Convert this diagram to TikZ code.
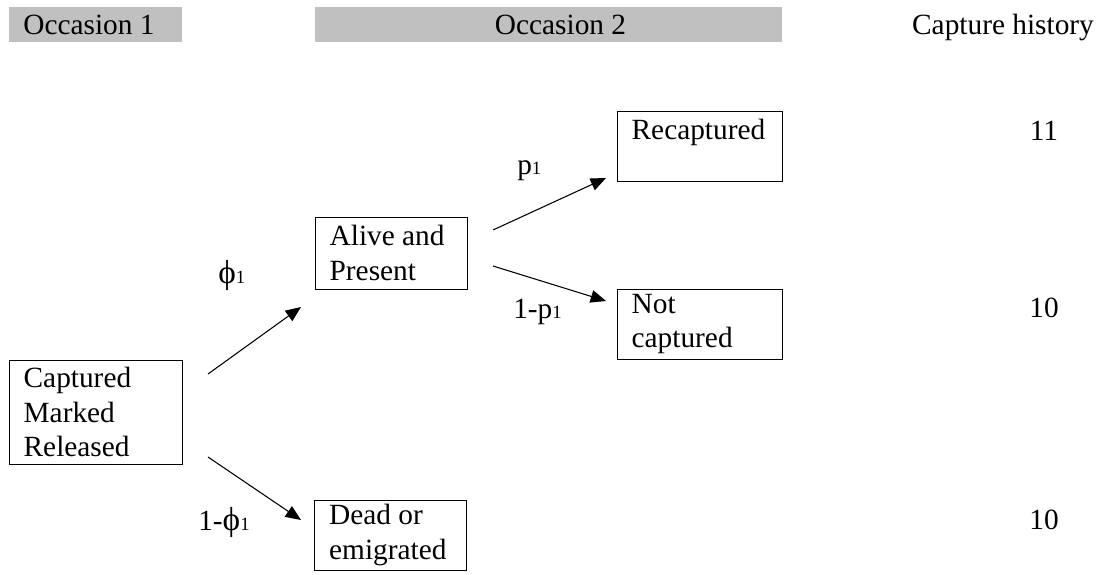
\documentclass[tikz,border=0pt]{standalone}
\usepackage{fontspec}
\setmainfont{Liberation Serif}
\usetikzlibrary{arrows.meta}
\newcommand\smallsub[1]{{\fontsize{14pt}{14pt}\selectfont #1}}
\newcommand\bigphi{{\fontsize{25pt}{25pt}\selectfont ϕ}}
\begin{document}
\begin{tikzpicture}[x=0.75pt,y=-0.75pt,
  txt/.style={font=\fontsize{22pt}{25.9pt}\selectfont, inner sep=0pt},
  header/.style={fill=headgray, draw=none, inner sep=0pt},
  statebox/.style={draw=black, line width=0.75pt, txt, inner xsep=11pt, inner ysep=0pt, align=flush left},
  arr/.style={line width=0.8pt, -{Triangle[length=11.5pt,width=9.5pt]}}
]
\definecolor{headgray}{HTML}{C0C0C0}
\useasboundingbox (0,0) rectangle (1105,574);
\fill[white] (0,0) rectangle (1105,574);

% headers
\node[header, minimum width=129.75pt, minimum height=26.25pt] (occ1box) at (95.5,24.5) {};
\node[txt, anchor=base] (occ1) at (89,35) {Occasion 1};
\node[header, minimum width=350.25pt, minimum height=26.25pt] (occ2box) at (548.5,24.5) {};
\node[txt, anchor=base] (occ2) at (560.5,35) {Occasion 2};
\node[txt, anchor=base] (hist) at (1003,35) {Capture history};

% state boxes
\node[statebox, minimum width=129.75pt, minimum height=78pt, text width=107.75pt] (cmr) at (95.5,412) {Captured\\Marked\\Released};
\node[statebox, minimum width=114pt, minimum height=54pt, text width=92pt] (alive) at (391,253) {Alive and\\Present};
\node[statebox, minimum width=114pt, minimum height=52.5pt, text width=92pt] (dead) at (390.5,535) {Dead or\\emigrated};
\node[statebox, minimum width=123.75pt, minimum height=51.75pt, text width=101.75pt] (recap) at (699.5,146.5) {Recaptured\\\mbox{}};
\node[statebox, minimum width=123.75pt, minimum height=52.5pt, text width=101.75pt] (notcap) at (699.5,324) {Not\\captured};

% capture histories
\node[txt, anchor=base] (h11) at (1044,141) {11};
\node[txt, anchor=base] (h10a) at (1044,317) {10};
\node[txt, anchor=base] (h10b) at (1044,529) {10};

% arrow end points
\coordinate (s1) at (208,374);
\coordinate (e1) at (301,307);
\coordinate (s2) at (208,457);
\coordinate (e2) at (301,520);
\coordinate (s3) at (493,230);
\coordinate (e3) at (606,178);
\coordinate (s4) at (493,266);
\coordinate (e4) at (606,301);

\draw[arr] (s1) -- (e1);
\draw[arr] (s2) -- (e2);
\draw[arr] (s3) -- (e3);
\draw[arr] (s4) -- (e4);

% probability labels
\node[txt, anchor=base west] (lphi) at (218,283) {\bigphi\smallsub{1}};
\node[txt, anchor=base west] (lnphi) at (198,530) {1-\bigphi\smallsub{1}};
\node[txt, anchor=base west] (lp) at (517,175) {p\smallsub{1}};
\node[txt, anchor=base west] (lnp) at (513,318) {1-p\smallsub{1}};
\end{tikzpicture}
\end{document}
